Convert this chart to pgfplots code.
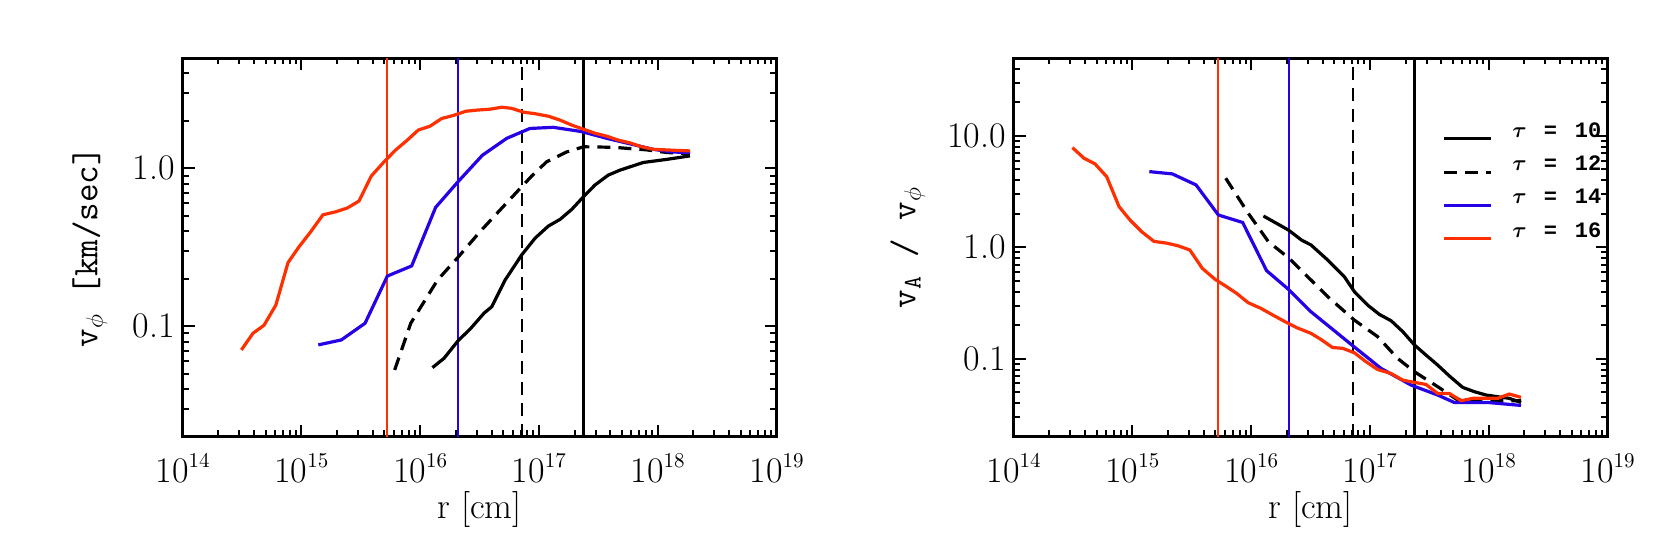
\documentclass[border=0pt]{standalone}
\usepackage{fontspec}
\usepackage{pgfplots}
\pgfplotsset{compat=1.18}
\newfontfamily\legfont{Liberation Mono}
\definecolor{idlred}{RGB}{255,48,0}
\definecolor{idlblue}{RGB}{40,0,230}
\newcommand{\ex}[1]{10\raisebox{7.3pt}{\fontsize{10.5}{12}\selectfont #1}}
\newcommand{\lbl}{\fontsize{18}{21}\selectfont}
\newcommand{\tauent}[1]{{\boldmath$\tau$}\hspace{8.5pt}=\hspace{9pt}#1}

\pgfplotsset{
  every axis/.append style={
    scale only axis,
    width=297pt, height=189.3pt,
    axis line style={line width=1.5pt},
    tick style={black, line width=1pt},
    major tick length=6pt, minor tick length=3.2pt,
    tick align=inside, xtick pos=both, ytick pos=both,
    tick label style={font=\lbl},
    xticklabel style={anchor=base, yshift=-22.7pt},
    yticklabel style={anchor=east, inner sep=0pt, xshift=-3.75pt},
    xlabel style={at={(axis description cs:0.5,-0.215)}, anchor=base, font=\lbl},
    ylabel style={anchor=center, font=\lbl\ttfamily},
  },
}
\tikzset{
  mycurve/.style={line width=1.6pt},
  myvline/.style={line width=1.1pt},
  mydash/.style={dash pattern=on 6.5pt off 4pt},
}

\begin{document}
\begin{tikzpicture}
\path[use as bounding box] (0,0) rectangle (830.5pt,277pt);

% left panel: v_phi
\begin{loglogaxis}[at={(91.25pt,58.7pt)}, anchor=south west,
  xmin=1e14, xmax=1e19, ymin=0.02, ymax=5,
  xtick={1e14,1e15,1e16,1e17,1e18,1e19},
  xticklabels={\ex{14},\ex{15},\ex{16},\ex{17},\ex{18},\ex{19}},
  minor xtick={2e14,3e14,4e14,5e14,6e14,7e14,8e14,9e14,
      2e15,3e15,4e15,5e15,6e15,7e15,8e15,9e15,
      2e16,3e16,4e16,5e16,6e16,7e16,8e16,9e16,
      2e17,3e17,4e17,5e17,6e17,7e17,8e17,9e17,
      2e18,3e18,4e18,5e18,6e18,7e18,8e18,9e18},
  ytick={0.1,1}, yticklabels={0.1,1.0},
  minor ytick={0.02,0.03,0.04,0.05,0.06,0.07,0.08,0.09,
    0.2,0.3,0.4,0.5,0.6,0.7,0.8,0.9,2,3,4,5},
  xlabel={r [cm]},
  ylabel={v$_\phi$ [km/sec]},
  ylabel style={at={(axis description cs:-0.156,0.5)}},
  ]
\addplot[myvline, idlred, forget plot] coordinates {(5.3e15,0.02) (5.3e15,5)};
\addplot[myvline, idlblue, forget plot] coordinates {(2.07e16,0.02) (2.07e16,5)};
\addplot[myvline, black, mydash, forget plot] coordinates {(7.24e16,0.02) (7.24e16,5)};
\addplot[myvline, black, forget plot] coordinates {(2.37e17,0.02) (2.37e17,5)};

% tau = 10
\addplot[mycurve, black] coordinates {
(1.27e16,0.0547) (1.59e16,0.0627) (2.08e16,0.0807) (2.67e16,0.097)
(3.45e16,0.121) (4.01e16,0.133) (5.19e16,0.196) (7.16e16,0.283)
(9.27e16,0.361) (1.20e17,0.431) (1.51e17,0.476) (1.89e17,0.550)
(2.37e17,0.661) (2.96e17,0.784) (3.84e17,0.907) (4.82e17,0.975)
(7.57e17,1.09) (1.19e18,1.14) (1.87e18,1.20)};
% tau = 12
\addplot[mycurve, black, mydash] coordinates {
(6.11e15,0.0529) (8.34e15,0.1045) (1.40e16,0.196) (2.08e16,0.273)
(3.19e16,0.397) (4.71e16,0.545) (7.16e16,0.765) (8.69e16,0.894)
(1.16e17,1.10) (1.71e17,1.27) (2.37e17,1.37) (4.23e17,1.36)
(8.07e17,1.31) (1.19e18,1.26) (1.87e18,1.24)};
% tau = 14
\addplot[mycurve, idlblue] coordinates {
(1.39e15,0.0762) (2.17e15,0.0819) (3.44e15,0.1045) (5.30e15,0.208)
(8.49e15,0.241) (1.35e16,0.566) (2.06e16,0.815) (3.34e16,1.21)
(5.36e16,1.55) (8.41e16,1.79) (1.32e17,1.82) (2.29e17,1.71)
(3.72e17,1.55) (5.85e17,1.43) (9.18e17,1.32) (1.31e18,1.27)
(1.87e18,1.26)};
% tau = 16
\addplot[mycurve, idlred] coordinates {
(3.13e14,0.0708) (3.92e14,0.0903) (4.85e14,0.1014) (6.10e14,0.136)
(7.73e14,0.253) (9.57e14,0.319) (1.20e15,0.397) (1.52e15,0.508)
(1.95e15,0.531) (2.44e15,0.561) (3.06e15,0.621) (3.88e15,0.894)
(4.97e15,1.10) (6.24e15,1.31) (7.80e15,1.51) (9.66e15,1.75)
(1.21e16,1.85) (1.52e16,2.07) (1.93e16,2.17) (2.42e16,2.30)
(3.03e16,2.34) (3.87e16,2.37) (4.86e16,2.44) (5.90e16,2.40)
(7.40e16,2.27) (9.27e16,2.22) (1.20e17,2.14) (1.51e17,2.02)
(1.89e17,1.88) (2.37e17,1.77) (2.96e17,1.67) (3.72e17,1.60)
(4.66e17,1.51) (5.85e17,1.45) (7.33e17,1.37) (9.18e17,1.32)
(1.15e18,1.31) (1.45e18,1.30) (1.87e18,1.29)};
\end{loglogaxis}

% right panel: v_A / v_phi
\begin{loglogaxis}[at={(506.75pt,58.7pt)}, anchor=south west,
  xmin=1e14, xmax=1e19, ymin=0.02, ymax=50,
  xtick={1e14,1e15,1e16,1e17,1e18,1e19},
  xticklabels={\ex{14},\ex{15},\ex{16},\ex{17},\ex{18},\ex{19}},
  minor xtick={2e14,3e14,4e14,5e14,6e14,7e14,8e14,9e14,
      2e15,3e15,4e15,5e15,6e15,7e15,8e15,9e15,
      2e16,3e16,4e16,5e16,6e16,7e16,8e16,9e16,
      2e17,3e17,4e17,5e17,6e17,7e17,8e17,9e17,
      2e18,3e18,4e18,5e18,6e18,7e18,8e18,9e18},
  ytick={0.1,1,10}, yticklabels={0.1,1.0,10.0},
  minor ytick={0.02,0.03,0.04,0.05,0.06,0.07,0.08,0.09,
    0.2,0.3,0.4,0.5,0.6,0.7,0.8,0.9,2,3,4,5,6,7,8,9,20,30,40,50},
  xlabel={r [cm]},
  ylabel={v$_{\mathtt{A}}$ / v$_\phi$},
  ylabel style={at={(axis description cs:-0.178,0.5)}},
  legend style={at={(rel axis cs:0.721,0.83)}, anchor=north west,
    draw=none, fill=none, inner sep=0pt, row sep=7.8pt,
    nodes={inner sep=0pt},
    font=\legfont\bfseries\fontsize{11}{12}\selectfont,
    /tikz/every odd column/.append style={column sep=10pt}},
  legend cell align=left,
  legend image code/.code={\draw[#1] (0pt,-3.6pt) -- (23.5pt,-3.6pt); \path (0pt,3.6pt);},
  ]
\addplot[myvline, idlred, forget plot] coordinates {(5.3e15,0.02) (5.3e15,50)};
\addplot[myvline, idlblue, forget plot] coordinates {(2.07e16,0.02) (2.07e16,50)};
\addplot[myvline, black, mydash, forget plot] coordinates {(7.24e16,0.02) (7.24e16,50)};
\addplot[myvline, black, forget plot] coordinates {(2.37e17,0.02) (2.37e17,50)};

\addplot[mycurve, black] coordinates {
(1.27e16,1.91) (2.06e16,1.43) (2.66e16,1.16) (3.19e16,1.05)
(4.41e16,0.769) (6.08e16,0.546) (7.40e16,0.400) (9.57e16,0.303)
(1.20e17,0.250) (1.51e17,0.219) (1.89e17,0.175) (2.37e17,0.133)
(2.96e17,0.108) (3.72e17,0.0877) (4.67e17,0.0699) (6.04e17,0.0553)
(7.57e17,0.0506) (9.51e17,0.0472) (1.19e18,0.0456) (1.49e18,0.0441)
(1.87e18,0.0405)};
\addlegendentry{\tauent{10}}
\addplot[mycurve, black, mydash] coordinates {
(6.11e15,4.17) (9.46e15,2.02) (1.40e16,1.12) (2.06e16,0.807)
(3.19e16,0.509) (4.41e16,0.361) (7.40e16,0.222) (1.16e17,0.158)
(1.71e17,0.1007) (2.37e17,0.0764) (3.72e17,0.0561) (5.48e17,0.0426)
(9.18e17,0.0420) (1.87e18,0.0420)};
\addlegendentry{\tauent{12}}
\addplot[mycurve, idlblue] coordinates {
(1.39e15,4.78) (2.17e15,4.56) (3.44e15,3.63) (5.30e15,1.95)
(8.49e15,1.67) (1.35e16,0.617) (2.06e16,0.420) (3.19e16,0.264)
(7.16e16,0.131) (1.24e17,0.0819) (2.22e17,0.0580) (3.72e17,0.0472)
(5.13e17,0.0405) (9.79e17,0.0405) (1.87e18,0.0381)};
\addlegendentry{\tauent{14}}
\addplot[mycurve, idlred] coordinates {
(3.13e14,7.85) (3.92e14,6.30) (4.85e14,5.61) (6.08e14,4.31)
(7.73e14,2.32) (9.55e14,1.76) (1.20e15,1.38) (1.52e15,1.13)
(1.95e15,1.09) (2.44e15,1.03) (3.05e15,0.946) (3.88e15,0.648)
(4.97e15,0.516) (6.22e15,0.443) (7.55e15,0.386) (9.46e15,0.318)
(1.21e16,0.283) (1.52e16,0.247) (1.93e16,0.215) (2.42e16,0.190)
(3.19e16,0.169) (3.87e16,0.149) (4.85e16,0.126) (5.90e16,0.124)
(7.40e16,0.113) (9.27e16,0.094) (1.16e17,0.080) (1.50e17,0.0738)
(1.89e17,0.0643) (2.37e17,0.0613) (2.96e17,0.0588) (3.72e17,0.0488)
(4.66e17,0.0488) (5.85e17,0.0420) (7.33e17,0.0441) (9.18e17,0.0441)
(1.19e18,0.0441) (1.49e18,0.0482) (1.87e18,0.0450)};
\addlegendentry{\tauent{16}}
\end{loglogaxis}
\end{tikzpicture}
\end{document}
